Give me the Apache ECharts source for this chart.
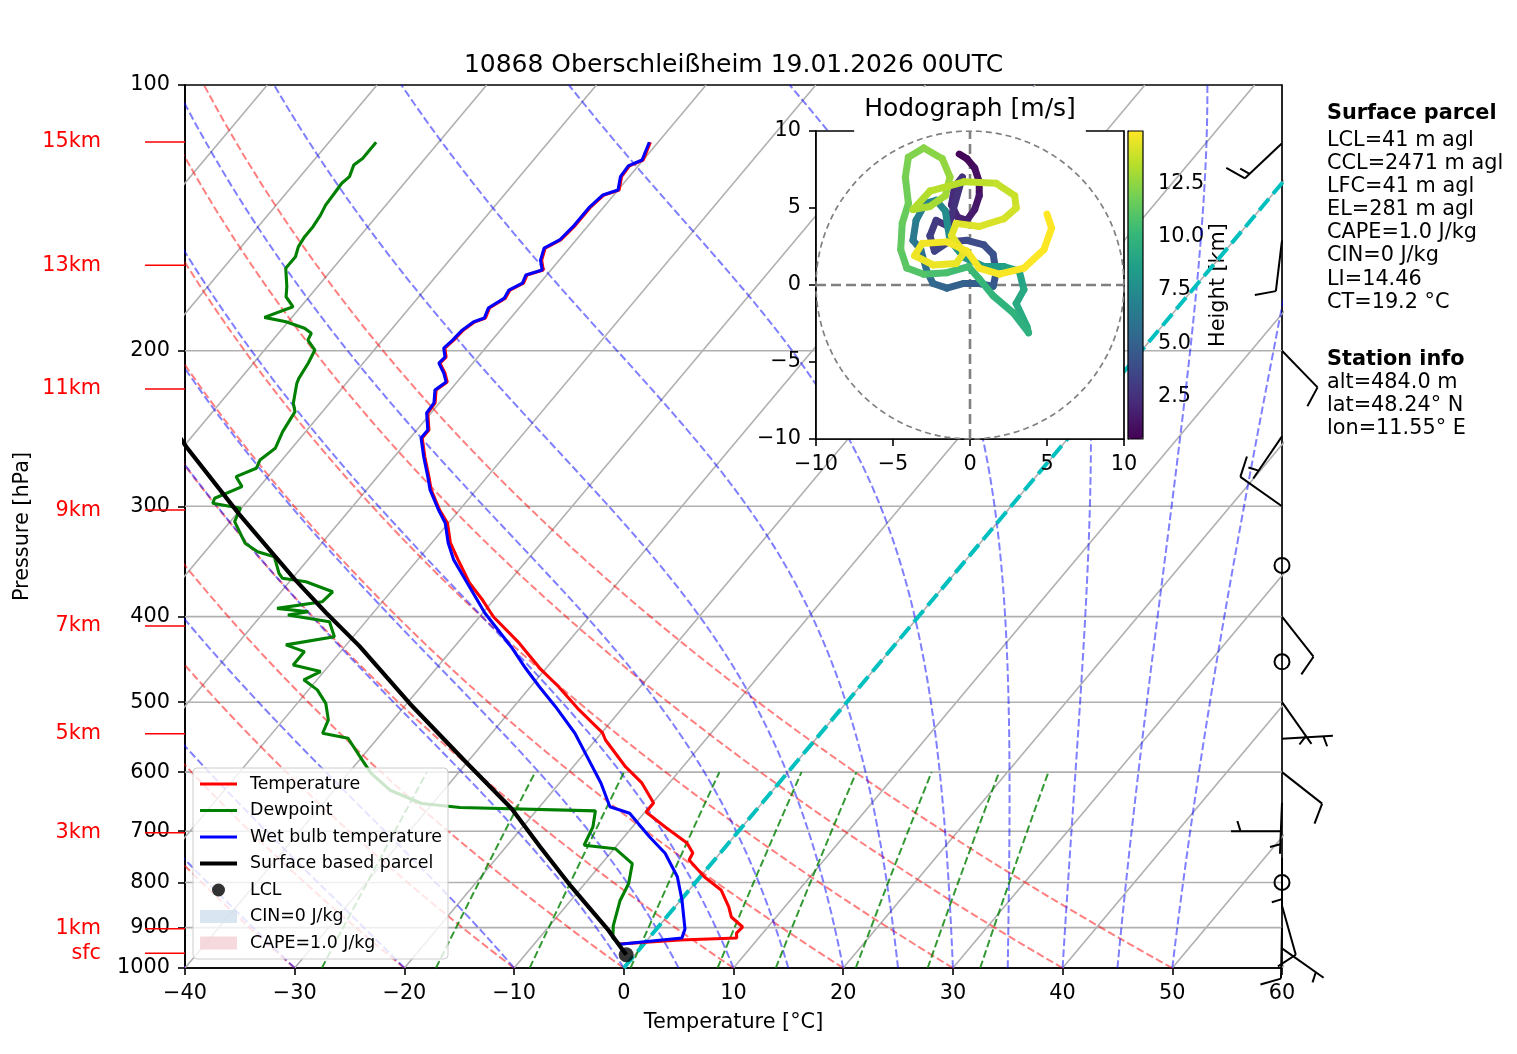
<!DOCTYPE html>
<html>
<head>
<meta charset="utf-8">
<script src="https://cdn.jsdelivr.net/npm/echarts@6.0.0/dist/echarts.min.js"></script>
<style>
html, body { margin: 0; padding: 0; background: #fff; }
#chart { width: 1517px; height: 1054px; }
</style>
</head>
<body>
<div id="chart"></div>
<script>
// sounding 10868 Oberschleissheim
const tempP = [116.1,121.6,123.5,127.0,131.5,133.2,137.8,144.7,149.8,153.0,157.9,162.0,164.1,167.6,170.7,174.3,178.9,183.6,185.5,189.5,194.5,198.6,203.3,206.5,211.9,216.9,221.5,229.1,235.2,245.8,251.0,263.8,277.9,287.5,302.9,313.3,330.1,345.0,366.4,383.1,400.4,428.4,457.4,480.6,510.2,541.8,551.8,592.0,617.2,650.3,665.7,692.4,721.8,740.9,754.6,788.7,815.9,852.8,875.4,898.6,912.9,924.7,929.6,939.4];
const tempT = [-60.7,-60.0,-60.8,-60.7,-59.9,-60.9,-61.2,-61.2,-61.4,-62.2,-61.6,-60.7,-61.8,-61.5,-62.2,-62.0,-62.7,-62.3,-63.0,-63.4,-63.5,-63.7,-62.9,-63.0,-61.8,-60.9,-61.3,-60.4,-60.3,-58.9,-58.9,-57.2,-55.3,-54.1,-51.8,-50.1,-48.3,-46.3,-43.5,-41.0,-38.7,-34.4,-30.6,-27.4,-23.8,-19.9,-19.1,-15.2,-12.5,-9.9,-9.9,-7.0,-3.8,-2.5,-2.3,0.4,2.9,4.9,5.9,7.7,7.6,8.0,3.0,-2.2];

const wetP = [116.1,121.6,123.5,127.0,131.5,133.2,137.8,144.7,149.8,153.0,157.9,162.0,164.1,167.6,170.7,174.3,178.9,183.6,185.5,189.5,194.5,198.6,203.3,206.5,211.9,216.9,221.5,229.1,235.2,245.8,251.0,263.8,277.9,287.5,302.9,313.3,330.1,345.0,357.0,396.3,432.9,457.4,480.2,505.9,542.2,576.3,617.7,656.6,667.9,710.1,741.5,788.1,837.4,903.4,924.6,939.8];
const wetT = [-60.8,-60.1,-60.9,-60.8,-60.0,-61.0,-61.3,-61.3,-61.5,-62.3,-61.7,-60.8,-61.9,-61.6,-62.3,-62.1,-62.8,-62.4,-63.1,-63.5,-63.6,-63.8,-63.0,-63.1,-61.9,-61.0,-61.4,-60.5,-60.4,-59.0,-59.0,-57.3,-55.4,-54.2,-51.9,-50.3,-48.5,-46.7,-45.0,-39.8,-34.8,-31.9,-29.2,-26.2,-22.4,-19.5,-16.2,-13.6,-11.3,-7.7,-5.0,-2.1,0.1,2.6,3.0,-2.2];

const dewP = [116.1,121.1,123.2,127.0,129.2,132.7,136.8,140.4,144.7,148.5,152.5,156.5,161.3,169.2,173.7,178.3,183.3,185.4,188.6,191.1,194.5,199.6,206.6,214.9,217.7,229.3,234.4,246.9,257.9,265.9,271.7,277.7,285.0,293.8,297.6,301.5,312.2,330.3,337.7,342.1,357.3,362.0,365.2,374.9,384.8,391.5,394.9,398.4,405.4,421.6,430.6,438.2,453.8,461.6,471.7,484.2,501.5,523.6,542.2,549.3,581.9,602.1,629.0,651.1,658.0,663.8,692.2,726.1,732.6,761.8,802.9,838.5,895.3,924.6,939.8];
const dewT = [-85.7,-85.7,-86.0,-85.5,-85.7,-85.6,-85.5,-85.2,-85.0,-85.0,-84.8,-84.3,-84.3,-82.8,-82.1,-80.7,-82.5,-80.2,-78.0,-77.0,-76.8,-75.4,-75.0,-74.7,-74.5,-73.3,-72.5,-72.1,-71.5,-72.0,-71.7,-72.9,-71.6,-73.2,-73.0,-70.1,-69.6,-67.0,-65.2,-63.3,-61.6,-60.9,-58.5,-55.3,-55.5,-59.1,-56.0,-57.6,-53.3,-51.7,-55.5,-53.3,-53.3,-50.3,-51.2,-49.2,-47.4,-45.9,-45.4,-42.7,-39.7,-37.9,-34.9,-31.0,-27.2,-14.6,-13.6,-13.0,-9.9,-7.2,-6.0,-5.5,-4.2,-3.3,-2.2];

const parcelP = [965.9,906,809,729,660,582,502,432,396,363,306,257,200];
const parcelT = [-0.8,-4.3,-11.0,-16.9,-22.4,-30.4,-39.7,-48.7,-54.3,-59.7,-69.8,-79.7,-93.0];

const lclP = 965.9;
const lclT = -0.8;

// wind barbs (knots)
const barbP = [116.4,150,200,250,300,350,400,450,500,550,600,650,700,750,800,850,900,950];
const barbU = [10.9,1.2,-7.0,2.8,8.2,0,-6.2,0,-2.9,-5.0,-7.9,0.2,5.0,0,0,-2.7,0.2,-4.1];
const barbV = [10.3,9.9,7.2,4.1,-5.8,0,7.9,0,4.1,-0.3,6.2,5.0,0,5.0,0,9.6,10.0,2.9];

// hodograph (m/s) and height (km)
const hodoU = [-0.7,-0.2,0.3,0.6,0.6,0.3,-0.2,-0.8,-1.2,-1.0,-0.5,-1.4,-2.2,-2.6,-2.3,-1.4,-0.2,0.9,1.5,1.7,1.5,0.6,-0.4,-1.5,-2.4,-2.8,-3.2,-3.7,-3.5,-2.9,-2.2,-1.6,-1.3,-0.4,0.9,2.2,3.2,3.5,3.0,3.7,3.8,2.8,1.5,0.6,-0.1,-1.5,-3.0,-4.1,-4.5,-4.4,-4.0,-4.2,-4.0,-3.0,-1.8,-1.3,-1.6,-2.6,-3.7,-2.6,-0.4,1.7,2.9,3.0,2.2,0.6,-0.9,-1.2,-0.4,-0.9,-2.4,-3.6,-3.1,-1.5,-0.2,0.6,1.9,3.5,4.8,5.3,5.0];
const hodoV = [8.5,8.2,7.6,6.7,5.8,4.9,4.2,4.4,5.2,6.4,7.0,3.8,4.2,3.2,2.2,2.8,2.9,2.6,2.0,0.8,-0.1,0.1,0.1,-0.2,0.1,0.9,2.3,2.9,4.2,5.3,5.5,4.8,2.9,1.8,1.2,1.2,0.9,-0.3,-1.2,-2.7,-3.1,-1.8,-0.7,0.4,1.2,0.8,0.7,1.1,2.3,4.0,5.3,7.0,8.3,8.9,8.2,7.0,5.8,5.1,4.9,6.1,6.7,6.6,5.8,5.0,4.3,3.8,4.0,3.2,2.1,1.4,1.3,1.9,2.7,2.8,2.2,1.1,0.7,1.1,2.3,3.7,4.6];
const hodoH = [0.5,0.7,0.9,1.1,1.3,1.5,1.7,1.9,2.1,2.3,2.5,2.7,2.9,3.1,3.3,3.5,3.7,3.9,4.1,4.3,4.5,4.7,4.9,5.1,5.3,5.6,5.9,6.2,6.5,6.8,7.1,7.4,7.7,8.0,8.3,8.6,8.9,9.1,9.3,9.5,9.6,9.8,10.0,10.2,10.4,10.6,10.9,11.1,11.3,11.5,11.7,11.9,12.1,12.3,12.5,12.7,12.9,13.05,13.2,13.35,13.5,13.65,13.8,13.95,14.1,14.2,14.3,14.4,14.5,14.55,14.6,14.65,14.7,14.75,14.8,14.85,14.9,14.93,14.96,14.98,15.0];

// height markers on the left
const heightLabels = ['15km','13km','11km','9km','7km','5km','3km','1km','sfc'];
const heightP = [116.0,160.0,221.0,303.0,410.0,543.0,703.0,903.0,962.0];

// axes ticks and background lines
const pressureTicks = [100,200,300,400,500,600,700,800,900,1000];
const isotherms = [-100,-90,-80,-70,-60,-50,-40,-30,-20,-10,0,10,20,30,40,50,60];
const dryT0 = [-40,-30,-20,-10,0,10,20,30,40,50];
const moistT0 = [-40,-30,-20,-10,0,5,10,15,20,25,30,35,40,45,50];
const mixRatios = [0.0004,0.001,0.002,0.004,0.007,0.01,0.016,0.024,0.032];
const colorbarTicks = [2.5,5,7.5,10,12.5];

const surfaceInfo = ['LCL=41 m agl','CCL=2471 m agl','LFC=41 m agl','EL=281 m agl','CAPE=1.0 J/kg','CIN=0 J/kg','LI=14.46','CT=19.2 °C'];
const stationInfo = ['alt=484.0 m','lat=48.24° N','lon=11.55° E'];

const viridis = ['#440154','#482878','#3e4989','#31688e','#26828e','#1f9e89','#35b779','#6ece58','#b5de2b','#fde725'];

const FONT = 'DejaVu Sans, Liberation Sans, sans-serif';
const FS = 20.8;
const SKEW = 67.5;
const sx = (t, p) => t + SKEW * (3 - Math.log10(p));
const ly = p => Math.log10(p);
const minus = v => String(v).replace('-', '\u2212');

// thermo helpers
const Rd = 287.04749, Cp = 1004.666, Lv = 2.50084e6, EPS = 0.62196;
function satVap(Tk) { const tc = Tk - 273.15; return 6.112 * Math.exp(17.67 * tc / (tc + 243.5)); }
function dTdp(p, Tk) {
    const e = satVap(Tk);
    const rs = EPS * e / (p - e);
    return (Rd * Tk + Lv * rs) / (Cp + Lv * Lv * rs * EPS / (Rd * Tk * Tk)) / p;
}

const series = [];
function bgLine(points, color, width, dash) {
    series.push({
        type: 'line', data: points, showSymbol: false, symbol: 'none', silent: true,
        lineStyle: { color: color, width: width, type: dash || 'solid' }, z: 1
    });
}

isotherms.forEach(t => bgLine([[sx(t, 1000), 3], [sx(t, 100), 2]], '#b0b0b0', 1.6));
pressureTicks.slice(1, -1).forEach(p => bgLine([[-40, ly(p)], [60, ly(p)]], '#b0b0b0', 1.6));

dryT0.forEach(t0 => {
    const pts = [];
    for (let p = 1000; p >= 100; p -= 10) {
        const T = (t0 + 273.15) * Math.pow(p / 1000, Rd / Cp) - 273.15;
        pts.push([sx(T, p), ly(p)]);
    }
    bgLine(pts, 'rgba(255,0,0,0.5)', 2, [7.7, 3.3]);
});

moistT0.forEach(t0 => {
    let T = t0 + 273.15, p = 1000;
    const pts = [[sx(t0, p), ly(p)]];
    const h = -5;
    while (p > 100.01) {
        const k1 = dTdp(p, T);
        const k2 = dTdp(p + h / 2, T + h / 2 * k1);
        const k3 = dTdp(p + h / 2, T + h / 2 * k2);
        const k4 = dTdp(p + h, T + h * k3);
        T += h / 6 * (k1 + 2 * k2 + 2 * k3 + k4);
        p += h;
        pts.push([sx(T - 273.15, p), ly(p)]);
    }
    bgLine(pts, 'rgba(0,0,255,0.5)', 2, [7.7, 3.3]);
});

mixRatios.forEach(w => {
    const pts = [];
    for (let p = 1000; p >= 600; p -= 10) {
        const e = w * p / (EPS + w);
        const val = Math.log(e / 6.112);
        const Td = 243.5 * val / (17.67 - val);
        pts.push([sx(Td, p), ly(p)]);
    }
    bgLine(pts, 'rgba(0,128,0,0.8)', 2, [7.7, 3.3]);
});

// 0 degC isotherm
bgLine([[sx(0, 1000), 3], [sx(0, 100), 2]], '#00bfbf', 4, [15, 6.5]);

function profile(name, P, T, color, width) {
    series.push({
        name: name, type: 'line', symbol: 'none', showSymbol: false, z: 3,
        data: P.map((p, i) => [sx(T[i], p), ly(p)]),
        lineStyle: { color: color, width: width }, itemStyle: { color: color }
    });
}
profile('Temperature', tempP, tempT, '#ff0000', 3.1);
profile('Dewpoint', dewP, dewT, '#008000', 3.1);
profile('Wet bulb temperature', wetP, wetT, '#0000ff', 3.1);
profile('Surface based parcel', parcelP, parcelT, '#000000', 4.2);

series.push({
    name: 'LCL', type: 'scatter', symbol: 'circle', symbolSize: 15, z: 4,
    itemStyle: { color: '#000' }, data: [[sx(lclT, lclP), ly(lclP)]]
});
series.push({ name: 'CIN=0 J/kg', type: 'scatter', data: [], itemStyle: { color: '#cfe0ee' } });
series.push({ name: 'CAPE=1.0 J/kg', type: 'scatter', data: [], itemStyle: { color: '#f3cfd3' } });

// height markers
series.push({
    type: 'custom', silent: true, z: 5,
    data: heightP.map(p => [-40, ly(p)]),
    renderItem: (params, api) => {
        const c = api.coord([-40, api.value(1)]);
        return {
            type: 'group', children: [
                { type: 'line', shape: { x1: c[0] - 40, y1: c[1], x2: c[0], y2: c[1] }, style: { stroke: '#ff0000', lineWidth: 1.5 } },
                { type: 'text', x: c[0] - 84, y: c[1], style: { text: heightLabels[params.dataIndex], fill: '#ff0000', font: FS + 'px ' + FONT, align: 'right', verticalAlign: 'middle', textAlign: 'right', textVerticalAlign: 'middle' } }
            ]
        };
    }
});

// wind barbs
series.push({
    type: 'custom', silent: true, z: 5,
    data: barbP.map((p, i) => [60, ly(p), barbU[i], barbV[i]]),
    encode: { x: 0, y: 1 },
    renderItem: (params, api) => {
        const a = api.coord([60, api.value(1)]);
        const u = api.value(2), v = api.value(3);
        const spd = Math.hypot(u, v);
        const r5 = Math.round(spd / 5) * 5;
        const st = { stroke: '#000', lineWidth: 2, fill: null };
        if (r5 < 5) {
            return { type: 'circle', shape: { cx: a[0], cy: a[1], r: 7.5 }, style: st };
        }
        const L = 51;
        const dx = -u / spd, dy = v / spd;
        const nx = -dy, ny = dx;
        const kids = [{ type: 'line', shape: { x1: a[0], y1: a[1], x2: a[0] + L * dx, y2: a[1] + L * dy }, style: st }];
        let off = L;
        const full = Math.floor(r5 / 10);
        const half = r5 % 10 >= 5;
        for (let i = 0; i < full; i++) {
            const px = a[0] + off * dx, py = a[1] + off * dy;
            kids.push({ type: 'line', shape: { x1: px, y1: py, x2: px + 0.4 * L * nx + 0.125 * L * dx, y2: py + 0.4 * L * ny + 0.125 * L * dy }, style: st });
            off -= 0.125 * L;
        }
        if (half) {
            if (off === L) off -= 1.5 * 0.125 * L;
            const px = a[0] + off * dx, py = a[1] + off * dy;
            kids.push({ type: 'line', shape: { x1: px, y1: py, x2: px + 0.2 * L * nx + 0.0625 * L * dx, y2: py + 0.2 * L * ny + 0.0625 * L * dy }, style: st });
        }
        return { type: 'group', children: kids };
    }
});

// hodograph
const circlePts = [];
for (let a = 0; a <= 360; a += 3) circlePts.push([10 * Math.cos(a * Math.PI / 180), 10 * Math.sin(a * Math.PI / 180)]);
const hodoBase = { xAxisIndex: 1, yAxisIndex: 1, zlevel: 1, silent: true };
series.push(Object.assign({ type: 'line', data: circlePts, symbol: 'none', z: 3, lineStyle: { color: '#808080', width: 1.7, type: [6, 4] } }, hodoBase));
series.push(Object.assign({ type: 'line', data: [[-10, 0], [10, 0]], symbol: 'none', z: 3, lineStyle: { color: '#808080', width: 2.6, type: [10, 5] } }, hodoBase));
series.push(Object.assign({ type: 'line', data: [[0, -10], [0, 10]], symbol: 'none', z: 3, lineStyle: { color: '#808080', width: 2.6, type: [10, 5] } }, hodoBase));
const hodoIndex = series.length;
const hodoSegs = [];
for (let i = 0; i < hodoU.length - 1; i++) {
    hodoSegs.push([hodoU[i], hodoV[i], (hodoH[i] + hodoH[i + 1]) / 2, hodoU[i + 1], hodoV[i + 1]]);
}
series.push(Object.assign({
    type: 'custom', z: 4, data: hodoSegs,
    encode: { x: [0, 3], y: [1, 4] },
    renderItem: (params, api) => {
        const p0 = api.coord([api.value(0), api.value(1)]);
        const p1 = api.coord([api.value(3), api.value(4)]);
        return { type: 'line', shape: { x1: p0[0], y1: p0[1], x2: p1[0], y2: p1[1] }, style: { stroke: api.visual('color'), lineWidth: 7, lineCap: 'round' } };
    }
}, hodoBase));

const axisFont = { color: '#000', fontSize: FS, fontFamily: FONT };
const vmid = { verticalAlign: 'middle', textVerticalAlign: 'middle' };

const graphic = [
    { type: 'text', x: 733.5, y: 65, style: Object.assign({ text: '10868 Oberschleißheim 19.01.2026 00UTC', fill: '#000', font: '25px ' + FONT, align: 'center', textAlign: 'center' }, vmid) },
    { type: 'text', x: 970, y: 109.5, zlevel: 1, z: 2.5, style: Object.assign({ text: 'Hodograph [m/s]', fill: '#000', font: '25px ' + FONT, lineHeight: 25, align: 'center', textAlign: 'center', backgroundColor: '#fff', padding: [10, 10, 10, 10] }, vmid) },
    { type: 'text', x: 1327, y: 114, style: Object.assign({ text: 'Surface parcel', fill: '#000', font: 'bold ' + FS + 'px ' + FONT }, vmid) },
    { type: 'text', x: 1327, y: 129, style: { text: surfaceInfo.join('\n'), fill: '#000', font: FS + 'px ' + FONT, lineHeight: 23.1, verticalAlign: 'top', textVerticalAlign: 'top' } },
    { type: 'text', x: 1327, y: 360, style: Object.assign({ text: 'Station info', fill: '#000', font: 'bold ' + FS + 'px ' + FONT }, vmid) },
    { type: 'text', x: 1327, y: 371, style: { text: stationInfo.join('\n'), fill: '#000', font: FS + 'px ' + FONT, lineHeight: 23.1, verticalAlign: 'top', textVerticalAlign: 'top' } }
];

const lineIcon = w => 'path://M0,0H37V' + w + 'H0Z';

const chart = echarts.init(document.getElementById('chart'), null, { renderer: 'canvas' });
chart.setOption({
    backgroundColor: '#ffffff',
    animation: false,
    textStyle: { fontFamily: FONT },
    grid: [
        { left: 185, top: 85, width: 1097, height: 883, show: true, borderColor: '#000', borderWidth: 1.7, backgroundColor: 'transparent', outerBoundsMode: 'none', containLabel: false },
        { left: 816, top: 131, width: 308, height: 308, show: true, borderColor: '#000', borderWidth: 1.7, backgroundColor: '#ffffff', zlevel: 1, z: 2, outerBoundsMode: 'none', containLabel: false },
        { left: 1128, top: 131, width: 15, height: 308, show: true, borderColor: '#000', borderWidth: 1.2, backgroundColor: 'transparent', z: 6, outerBoundsMode: 'none', containLabel: false }
    ],
    xAxis: [
        {
            gridIndex: 0, type: 'value', min: -40, max: 60, interval: 10,
            name: 'Temperature [°C]', nameLocation: 'middle', nameGap: 44, nameTextStyle: axisFont,
            axisLine: { show: true, onZero: false, lineStyle: { color: '#000', width: 1.7 } },
            axisTick: { show: true, inside: false, length: 7, lineStyle: { color: '#000', width: 1.6 } },
            axisLabel: Object.assign({ margin: 15, formatter: v => minus(v) }, axisFont),
            splitLine: { show: false }
        },
        {
            gridIndex: 1, type: 'value', min: -10, max: 10, interval: 5, zlevel: 1,
            axisLine: { show: true, onZero: false, lineStyle: { color: '#000', width: 1.7 } },
            axisTick: { show: true, length: 7, lineStyle: { color: '#000', width: 1.6 } },
            axisLabel: Object.assign({ margin: 15, formatter: v => minus(v) }, axisFont),
            splitLine: { show: false }
        },
        { gridIndex: 2, type: 'value', min: 0, max: 1, show: false }
    ],
    yAxis: [
        {
            gridIndex: 0, type: 'value', min: 2, max: 3, inverse: true,
            name: 'Pressure [hPa]', nameLocation: 'middle', nameGap: 152, nameRotate: 90, nameTextStyle: axisFont,
            axisLine: { show: true, onZero: false, lineStyle: { color: '#000', width: 1.7 } },
            axisTick: { show: true, length: 7, customValues: pressureTicks.map(ly), lineStyle: { color: '#000', width: 1.6 } },
            axisLabel: Object.assign({ margin: 15, customValues: pressureTicks.map(ly), formatter: v => String(Math.round(Math.pow(10, v))) }, axisFont),
            splitLine: { show: false }
        },
        {
            gridIndex: 1, type: 'value', min: -10, max: 10, interval: 5, zlevel: 1,
            axisLine: { show: true, onZero: false, lineStyle: { color: '#000', width: 1.7 } },
            axisTick: { show: true, length: 7, lineStyle: { color: '#000', width: 1.6 } },
            axisLabel: Object.assign({ margin: 15, formatter: v => minus(v) }, axisFont),
            splitLine: { show: false }
        },
        {
            gridIndex: 2, type: 'value', min: 0.48, max: 15, position: 'right',
            name: 'Height [km]', nameLocation: 'middle', nameGap: 58, nameRotate: 90, nameTextStyle: axisFont,
            axisLine: { show: true, lineStyle: { color: '#000', width: 1.2 } },
            axisTick: { show: true, length: 7, customValues: colorbarTicks, lineStyle: { color: '#000', width: 1.6 } },
            axisLabel: Object.assign({ margin: 15, customValues: colorbarTicks, formatter: v => v.toFixed(1) }, axisFont),
            splitLine: { show: false }
        }
    ],
    visualMap: {
        type: 'continuous', min: 0.48, max: 15, dimension: 2, seriesIndex: hodoIndex,
        left: 1128, top: 131, itemWidth: 15, itemHeight: 308, padding: 0,
        calculable: false, hoverLink: false, realtime: false,
        inRange: { color: viridis }, textStyle: { color: 'transparent' }
    },
    legend: {
        left: 193, top: 768, orient: 'vertical', selectedMode: false,
        itemWidth: 37, itemHeight: 13, itemGap: 8.5,
        padding: [7, 6, 7, 7],
        backgroundColor: 'rgba(255,255,255,0.8)', borderColor: '#cccccc', borderWidth: 1, borderRadius: 4,
        textStyle: { fontFamily: FONT, fontSize: 17.4, lineHeight: 18, color: '#000', padding: [0, 0, 0, 8] },
        data: [
            { name: 'Temperature', icon: lineIcon(3.1) },
            { name: 'Dewpoint', icon: lineIcon(3.1) },
            { name: 'Wet bulb temperature', icon: lineIcon(3.1) },
            { name: 'Surface based parcel', icon: lineIcon(4.2) },
            { name: 'LCL', icon: 'circle', itemStyle: { color: '#000' } },
            { name: 'CIN=0 J/kg', icon: 'rect' },
            { name: 'CAPE=1.0 J/kg', icon: 'rect' }
        ]
    },
    graphic: graphic,
    series: series
});
</script>
</body>
</html>
